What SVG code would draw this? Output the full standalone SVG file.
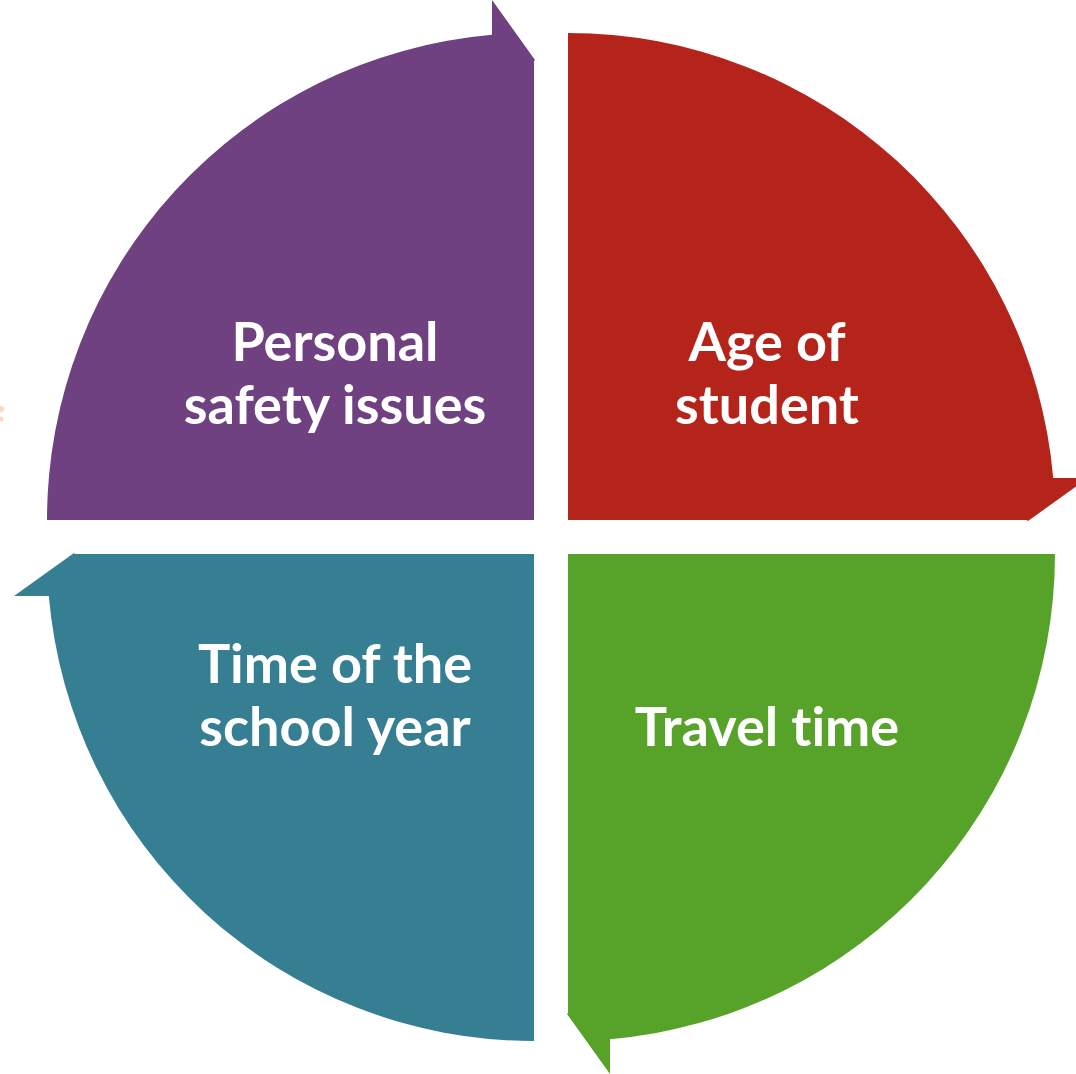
<svg xmlns="http://www.w3.org/2000/svg" width="1076" height="1074" viewBox="0 0 1076 1074">
  <style>
    .lbl { font-family: Lato, "Liberation Sans", sans-serif; font-weight: 700; font-size: 54px; fill: #FFFFFF; text-anchor: middle; font-variant-ligatures: none; font-feature-settings: "liga" 0, "clig" 0; }
  </style>
  <rect width="1076" height="1074" fill="#FFFFFF"/>
  <g id="artifact" fill="#F9CDB5" opacity="0.8">
    <circle cx="1" cy="409" r="3"/>
    <circle cx="1" cy="419" r="2.5"/>
  </g>
  <g id="node-personal-safety">
    <path d="M534,520 H47 A487,487 0 0 1 492,34.8 V0 L535,60 L534,61 Z" fill="#6F4180"/>
    <text class="lbl" x="335" y="361">Personal</text>
    <text class="lbl" x="335" y="424">safety issues</text>
  </g>
  <g id="node-age-of-student">
    <path d="M568,520 V33 A487,487 0 0 1 1053.2,478 H1088 L1028,521 L1027,520 Z" fill="#B5241A"/>
    <text class="lbl" x="767" y="361">Age of</text>
    <text class="lbl" x="767" y="424">student</text>
  </g>
  <g id="node-travel-time">
    <path d="M568,554 H1055 A487,487 0 0 1 610,1039.2 V1074 L567,1014 L568,1013 Z" fill="#57A32A"/>
    <text class="lbl" x="767" y="746">Travel time</text>
  </g>
  <g id="node-time-of-school-year">
    <path d="M534,554 V1041 A487,487 0 0 1 48.8,596 H14 L74,553 L75,554 Z" fill="#367F92"/>
    <text class="lbl" x="335" y="683">Time of the</text>
    <text class="lbl" x="335" y="746">school year</text>
  </g>
  <g id="connectors"/>
</svg>
